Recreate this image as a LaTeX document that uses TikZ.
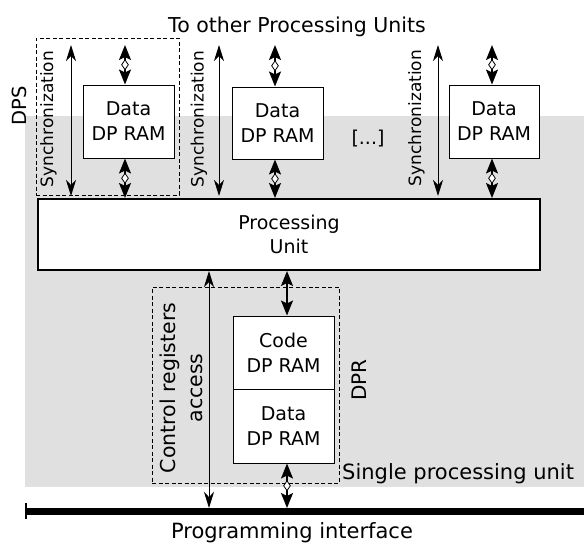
\documentclass[tikz,border=0pt]{standalone}
\usepackage{fontspec}
\setmainfont{DejaVu Sans}
\usetikzlibrary{arrows.meta,shapes.geometric}
\begin{document}
\begin{tikzpicture}[x=1pt,y=-1pt,
  ramstyle/.style={draw, line width=1pt, fill=white, align=center, inner sep=0pt, font=\fontsize{19}{25}\selectfont},
  groupbox/.style={draw, line width=1pt, dash pattern=on 4pt off 2.5pt, inner sep=0pt},
  pustyle/.style={draw, line width=2pt, fill=white, align=center, inner sep=0pt, font=\fontsize{19}{24}\selectfont},
  syncarrow/.style={line width=1pt, {Stealth[length=16pt,width=10pt,inset=5pt]}-{Stealth[length=16pt,width=10pt,inset=5pt]}},
  dparrow/.style={line width=1.8pt, {Stealth[length=15pt,width=12pt,inset=3pt]}-{Stealth[length=15pt,width=12pt,inset=3pt]}},
  hollow/.style={diamond, draw, fill=white, line width=0.8pt, inner sep=0pt, minimum width=7pt, minimum height=10pt},
  synctext/.style={font=\fontsize{17}{20}\selectfont, inner sep=0pt, rotate=90},
  plaintext/.style={font=\fontsize{19}{24}\selectfont, inner sep=0pt},
  bigtext/.style={font=\fontsize{21}{26}\selectfont, inner sep=0pt}
]
\useasboundingbox (0,0) rectangle (584,542);
% background of the DPS
\fill[black!12] (25,116) rectangle (584,487);

% title and side labels
\node[bigtext, font=\fontsize{20.5}{26}\selectfont, anchor=base] (title) at (297,32) {To other Processing Units};
\node[plaintext, font=\fontsize{19.5}{24}\selectfont, rotate=90] (dps) at (19,106) {DPS};

% dashed group at top left
\node[groupbox, minimum width=143pt, minimum height=157pt] (grp1) at (107.5,116.5) {};

% processing unit
\node[pustyle, minimum width=502pt, minimum height=71pt] (pu) at (289,234.5) {Processing\\Unit};

% data DP RAM boxes
\node[ramstyle, minimum width=91pt, minimum height=73pt] (d1) at (128.5,121.5) {Data\\DP RAM};
\node[ramstyle, minimum width=91pt, minimum height=72pt] (d2) at (277.5,123) {Data\\DP RAM};
\node[ramstyle, minimum width=90pt, minimum height=73pt] (d3) at (494,121.5) {Data\\DP RAM};
\node[plaintext] (dots) at (368,138.5) {[...]};

% synchronization labels
\node[synctext] (st1) at (48.5,119) {Synchronization};
\node[synctext] (st2) at (199,119) {Synchronization};
\node[synctext] (st3) at (416.5,118) {Synchronization};

% arrow end points
\coordinate (s1) at (71,45);
\coordinate (s2) at (219,45);
\coordinate (s3) at (438,45);
\coordinate (h1) at (125,45);
\coordinate (h2) at (275,45);
\coordinate (h3) at (492,45);

% synchronization arrows
\draw[syncarrow, shorten >=2pt] (s1) -- (s1 |- pu.north);
\draw[syncarrow, shorten >=2pt] (s2) -- (s2 |- pu.north);
\draw[syncarrow, shorten >=2pt] (s3) -- (s3 |- pu.north);

% data arrows
\draw[dparrow] (h1) -- node[hollow]{} (h1 |- d1.north);
\draw[dparrow] (h1 |- d1.south) -- node[hollow]{} (h1 |- pu.north);
\draw[dparrow] (h2) -- node[hollow]{} (h2 |- d2.north);
\draw[dparrow] (h2 |- d2.south) -- node[hollow]{} (h2 |- pu.north);
\draw[dparrow] (h3) -- node[hollow]{} (h3 |- d3.north);
\draw[dparrow] (h3 |- d3.south) -- node[hollow]{} (h3 |- pu.north);

% DPR group
\node[groupbox, minimum width=187pt, minimum height=196pt] (dpr) at (245.5,385) {};
\node[ramstyle, minimum width=101pt, minimum height=73pt] (code) at (283.5,352.5) {Code\\DP RAM};
\node[ramstyle, minimum width=101pt, minimum height=74pt] (data) at (283.5,426) {Data\\DP RAM};
\node[plaintext, font=\fontsize{20}{24}\selectfont, rotate=90] (dprlabel) at (359,380) {DPR};
\node[plaintext, font=\fontsize{20.5}{27}\selectfont, rotate=90, align=center] (ctrl) at (181.5,388) {Control registers\\access};
\node[plaintext, font=\fontsize{21}{26}\selectfont, anchor=base west] (spu) at (342,479) {Single processing unit};

% programming interface bus
\coordinate (busL) at (26,511.5);
\coordinate (busR) at (584,511.5);
\coordinate (tickT) at (26,503);
\coordinate (tickB) at (26,519);
\draw[line width=7pt] (busL) -- (busR);
\draw[line width=1.8pt] (tickT) -- (tickB);
\node[bigtext, anchor=base] (prog) at (292,538) {Programming interface};

\coordinate (ca) at (209,270);
\coordinate (ha) at (287,270);
\draw[syncarrow] (ca |- pu.south) -- (209,508);
\draw[dparrow] (ha |- pu.south) -- (ha |- code.north);
\draw[dparrow] (ha |- data.south) -- node[hollow]{} (287,508);
\end{tikzpicture}
\end{document}
